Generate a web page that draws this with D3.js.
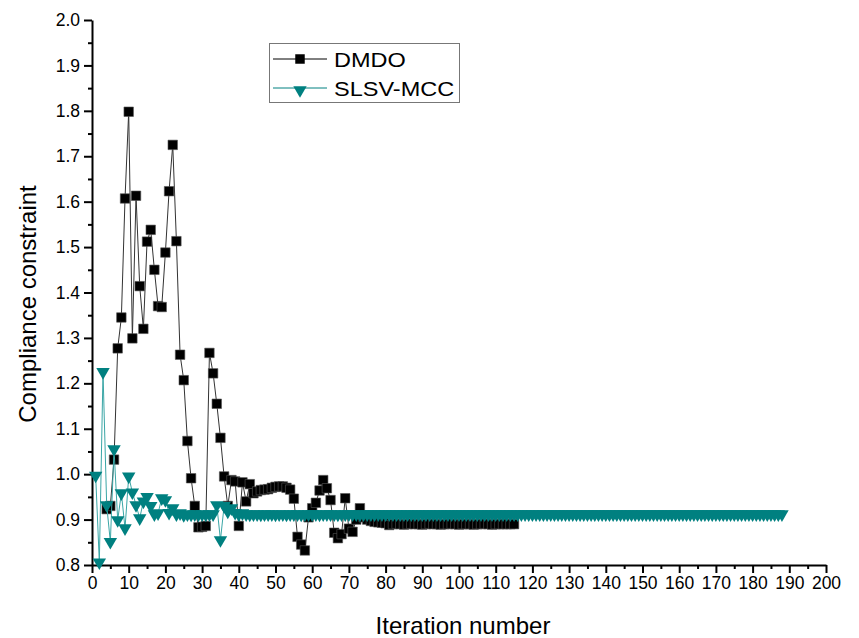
<html>
<head>
<title>Compliance constraint</title>
<script src="https://cdn.jsdelivr.net/npm/d3@7"></script>
<style>
  body { margin: 0; background: #fff; }
  text { font-family: "Liberation Sans", Arial, sans-serif; }
</style>
</head>
<body>
<script>
// DMDO starts at iteration 4
var dmdoStart = 4;
var dmdoValues = [
  0.923, 0.930, 1.032, 1.277, 1.345, 1.607, 1.798, 1.299, 1.613, 1.414,
  1.320, 1.512, 1.538, 1.450, 1.370, 1.368, 1.488, 1.623, 1.725, 1.513,
  1.263, 1.207, 1.073, 0.991, 0.930, 0.883, 0.884, 0.886, 1.267, 1.222,
  1.155, 1.080, 0.995, 0.930, 0.987, 0.984, 0.886, 0.982, 0.940, 0.978,
  0.958, 0.962, 0.965, 0.966, 0.967, 0.970, 0.972, 0.973, 0.973, 0.970,
  0.966, 0.946, 0.862, 0.845, 0.832, 0.905, 0.925, 0.937, 0.964, 0.987,
  0.969, 0.943, 0.871, 0.859, 0.868, 0.947, 0.880, 0.873, 0.900, 0.925,
  0.905, 0.900, 0.897, 0.895, 0.894, 0.893, 0.892, 0.888, 0.890, 0.891,
  0.890, 0.889, 0.890, 0.891, 0.890, 0.890, 0.889, 0.890, 0.891, 0.890,
  0.890, 0.889, 0.890, 0.890, 0.891, 0.890, 0.889, 0.890, 0.890, 0.890,
  0.889, 0.890, 0.890, 0.891, 0.890, 0.889, 0.890, 0.890, 0.890, 0.890,
  0.890, 0.890
];

var slsvStart = 1;
var slsvValues = [
  0.997, 0.806, 1.225, 0.932, 0.851, 1.055, 0.899, 0.958, 0.881, 0.995,
  0.960, 0.932, 0.903, 0.940, 0.950, 0.930, 0.912, 0.914, 0.947, 0.943,
  0.915, 0.925, 0.912, 0.914, 0.910, 0.912, 0.911, 0.912, 0.911, 0.912,
  0.911, 0.912, 0.912, 0.932, 0.855, 0.930, 0.918, 0.925, 0.915, 0.912,
  0.914, 0.912, 0.911, 0.912, 0.912, 0.911, 0.912, 0.912, 0.912, 0.911,
  0.912, 0.912, 0.911, 0.912, 0.912, 0.912, 0.911, 0.912, 0.912, 0.912,
  0.912, 0.911, 0.912, 0.912, 0.912, 0.912, 0.911, 0.912, 0.912, 0.912,
  0.912, 0.912, 0.911, 0.912, 0.912, 0.912, 0.912, 0.912, 0.912, 0.912,
  0.912, 0.912, 0.912, 0.912, 0.912, 0.912, 0.912, 0.912, 0.912, 0.912,
  0.912, 0.912, 0.912, 0.912, 0.912, 0.912, 0.912, 0.912, 0.912, 0.912,
  0.912, 0.912, 0.912, 0.912, 0.912, 0.912, 0.912, 0.912, 0.912, 0.912,
  0.912, 0.912, 0.912, 0.912, 0.912, 0.912, 0.912, 0.912, 0.912, 0.912,
  0.912, 0.912, 0.912, 0.912, 0.912, 0.912, 0.912, 0.912, 0.912, 0.912,
  0.912, 0.912, 0.912, 0.912, 0.912, 0.912, 0.912, 0.912, 0.912, 0.912,
  0.912, 0.912, 0.912, 0.912, 0.912, 0.912, 0.912, 0.912, 0.912, 0.912,
  0.912, 0.912, 0.912, 0.912, 0.912, 0.912, 0.912, 0.912, 0.912, 0.912,
  0.912, 0.912, 0.912, 0.912, 0.912, 0.912, 0.912, 0.912, 0.912, 0.912,
  0.912, 0.912, 0.912, 0.912, 0.912, 0.912, 0.912, 0.912, 0.912, 0.912,
  0.912, 0.912, 0.912, 0.912, 0.912, 0.912, 0.912, 0.912
];

var xTicks = d3.range(0, 201, 10);
var xMinor = d3.range(5, 200, 10);
var yTicks = d3.range(8, 21).map(function(d){ return d / 10; });
var yMinor = d3.range(8, 20).map(function(d){ return d / 10 + 0.05; });
var seriesNames = ["DMDO", "SLSV-MCC"];
var teal = "#008080";

var dmdo = dmdoValues.map(function(v, i){ return { it: dmdoStart + i, v: v }; });
var slsv = slsvValues.map(function(v, i){ return { it: slsvStart + i, v: v }; });

var svg = d3.select("body").append("svg")
  .attr("width", 859)
  .attr("height", 638);

var x = d3.scaleLinear().domain([0, 200]).range([92, 826]);
var y = d3.scaleLinear().domain([0.8, 2.0]).range([565, 20]);

// minor ticks
svg.append("g")
  .attr("transform", "translate(0,565)")
  .call(d3.axisBottom(x).tickValues(xMinor).tickSize(4).tickFormat(""))
  .call(function(g){ g.select(".domain").remove(); g.selectAll("line").attr("stroke-width", 2); });
svg.append("g")
  .attr("transform", "translate(92,0)")
  .call(d3.axisLeft(y).tickValues(yMinor).tickSize(4).tickFormat(""))
  .call(function(g){ g.select(".domain").remove(); g.selectAll("line").attr("stroke-width", 2); });

var xAxis = svg.append("g")
  .attr("transform", "translate(0,565)")
  .call(d3.axisBottom(x).tickValues(xTicks).tickSize(8).tickSizeOuter(0).tickPadding(4));
var yAxis = svg.append("g")
  .attr("transform", "translate(92,0)")
  .call(d3.axisLeft(y).tickValues(yTicks).tickSize(8).tickSizeOuter(0).tickPadding(4).tickFormat(d3.format(".1f")));

[xAxis, yAxis].forEach(function(g){
  g.select(".domain").attr("stroke-width", 2);
  g.selectAll("line").attr("stroke-width", 2);
  g.selectAll("text").attr("font-size", 17.5).attr("fill", "#000")
    .style("font-family", "'Liberation Sans', Arial, sans-serif");
});

svg.append("text")
  .attr("x", 463).attr("y", 634)
  .attr("text-anchor", "middle")
  .attr("font-size", 24)
  .text("Iteration number");

svg.append("text")
  .attr("transform", "translate(36,304) rotate(-90)")
  .attr("text-anchor", "middle")
  .attr("font-size", 24)
  .text("Compliance constraint");

var line = d3.line()
  .x(function(d){ return x(d.it); })
  .y(function(d){ return y(d.v); });

var sq = d3.symbol().type(d3.symbolSquare).size(90);
var tri = d3.symbol().type(d3.symbolTriangle).size(78);

// DMDO
svg.append("path").datum(dmdo)
  .attr("d", line)
  .attr("fill", "none")
  .attr("stroke", "#333")
  .attr("stroke-width", 1);
svg.append("g").selectAll("path").data(dmdo).enter()
  .append("path")
  .attr("d", sq)
  .attr("transform", function(d){ return "translate(" + x(d.it) + "," + y(d.v) + ")"; })
  .attr("fill", "#000")
  .attr("stroke", "#555")
  .attr("stroke-width", 0.6);

// SLSV-MCC
svg.append("path").datum(slsv)
  .attr("d", line)
  .attr("fill", "none")
  .attr("stroke", "#3aa6a6")
  .attr("stroke-width", 1);
svg.append("g").selectAll("path").data(slsv).enter()
  .append("path")
  .attr("d", tri)
  .attr("transform", function(d){ return "translate(" + x(d.it) + "," + y(d.v) + ") rotate(180)"; })
  .attr("fill", teal);

// legend
var lg = svg.append("g");
lg.append("rect")
  .attr("x", 269.5).attr("y", 43.5)
  .attr("width", 190).attr("height", 59)
  .attr("fill", "#fff")
  .attr("stroke", "#777")
  .attr("stroke-width", 1);

var legendRows = [
  { name: seriesNames[0], color: "#000", sym: sq, rot: 0, ly: 59 },
  { name: seriesNames[1], color: teal, sym: tri, rot: 180, ly: 88 }
];
legendRows.forEach(function(r){
  lg.append("line")
    .attr("x1", 273).attr("x2", 327)
    .attr("y1", r.ly).attr("y2", r.ly)
    .attr("stroke", r.color)
    .attr("stroke-width", 1);
  lg.append("path")
    .attr("d", r.sym)
    .attr("transform", "translate(300," + (r.ly + (r.rot ? 2 : 0)) + ") rotate(" + r.rot + ")")
    .attr("fill", r.color);
  lg.append("text")
    .attr("transform", "translate(334," + (r.ly + 8) + ") scale(1.12,1)")
    .attr("font-size", 21)
    .text(r.name);
});
</script>
</body>
</html>
